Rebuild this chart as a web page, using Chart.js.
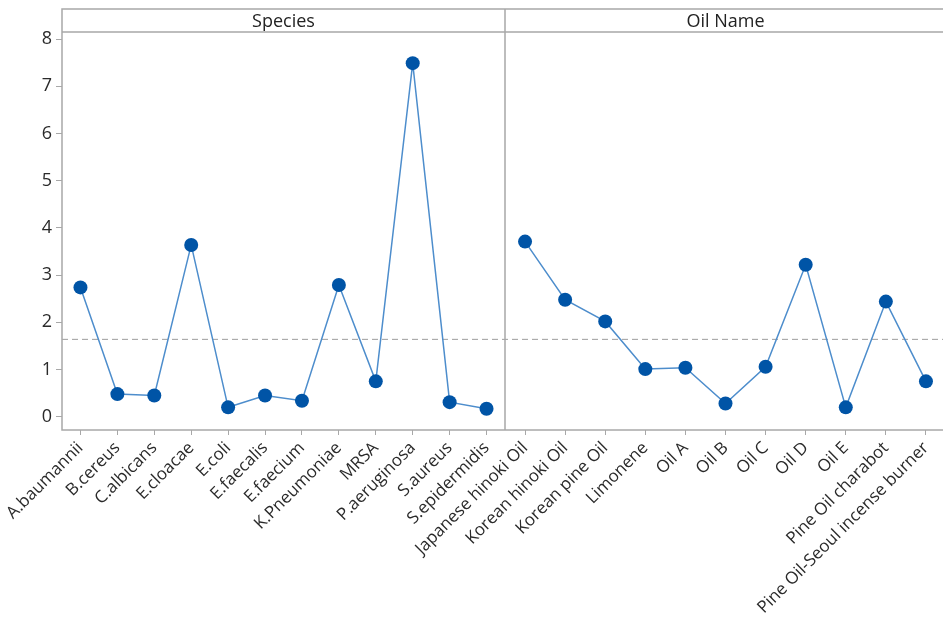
<!DOCTYPE html>
<html>
<head>
<meta charset="utf-8">
<script src="https://cdn.jsdelivr.net/npm/chart.js@4.4.0/dist/chart.umd.min.js"></script>
<style>
    html, body { margin: 0; padding: 0; background: #fff; overflow: hidden; }
    #mainEffects { display: block; }
</style>
</head>
<body>
<!-- canvas is a few px wider than the window: the right frame edge is cropped like in the source -->
<canvas id="mainEffects" width="946" height="632"></canvas>
<script>
// Means per factor level
const speciesLabels = ['A.baumannii', 'B.cereus', 'C.albicans', 'E.cloacae', 'E.coli', 'E.faecalis',
    'E.faecium', 'K.Pneumoniae', 'MRSA', 'P.aeruginosa', 'S.aureus', 'S.epidermidis'];
const speciesMeans = [2.74, 0.48, 0.45, 3.64, 0.20, 0.45, 0.34, 2.79, 0.75, 7.49, 0.31, 0.17];

const oilLabels = ['Japanese hinoki Oil', 'Korean hinoki Oil', 'Korean pine Oil', 'Limonene',
    'Oil A', 'Oil B', 'Oil C', 'Oil D', 'Oil E', 'Pine Oil charabot', 'Pine Oil-Seoul incense burner'];
const oilMeans = [3.71, 2.48, 2.02, 1.01, 1.04, 0.28, 1.06, 3.22, 0.20, 2.44, 0.75];

const panelTitles = ['Species', 'Oil Name'];
const yTicks = [0, 1, 2, 3, 4, 5, 6, 7, 8];
const grandMean = 1.64;

const FONT = '"Open Sans", "Noto Sans", sans-serif';
const FRAME = '#a8a8a8';

// Draws the panel frame, header strips and the dashed grand-mean line
const panelFrame = {
    id: 'panelFrame',
    beforeDatasetsDraw(chart) {
        const { ctx, chartArea: a, scales } = chart;
        const top = a.top - 23;
        ctx.save();

        const yMean = scales.y.getPixelForValue(grandMean);
        ctx.strokeStyle = '#9c9c9c';
        ctx.lineWidth = 1;
        ctx.setLineDash([6, 4]);
        ctx.beginPath();
        ctx.moveTo(a.left, yMean);
        ctx.lineTo(a.right, yMean);
        ctx.stroke();
        ctx.setLineDash([]);

        ctx.strokeStyle = FRAME;
        ctx.lineWidth = 1.5;
        ctx.strokeRect(a.left, top, a.right - a.left, a.bottom - top);
        ctx.beginPath();
        ctx.moveTo(a.left, a.top);
        ctx.lineTo(a.right, a.top);
        const split = scales.x2.left;
        ctx.moveTo(split, top);
        ctx.lineTo(split, a.bottom);
        ctx.stroke();

        ctx.fillStyle = '#222';
        ctx.font = '18px ' + FONT;
        ctx.textAlign = 'center';
        ctx.textBaseline = 'middle';
        [scales.x1, scales.x2].forEach((s, i) => {
            ctx.fillText(panelTitles[i], (s.left + s.right) / 2, (top + a.top) / 2 + 1);
        });
        ctx.restore();
    }
};

function panelAxis(labels, weight) {
    return {
        type: 'category',
        labels: labels,
        position: 'bottom',
        stack: 'panels',
        stackWeight: weight,
        offset: true,
        border: { display: false },
        grid: { drawOnChartArea: false, drawTicks: true, tickLength: 5, color: FRAME },
        ticks: {
            autoSkip: false,
            maxRotation: 45,
            minRotation: 45,
            padding: 3,
            color: '#2a2a2a',
            font: { family: FONT, size: 17 }
        },
        afterFit(scale) {
            scale.height = 202;
            scale.paddingLeft = 0;
            scale.paddingRight = 0;
        }
    };
}

function lineSet(values, axisId) {
    return {
        data: values,
        xAxisID: axisId,
        yAxisID: 'y',
        borderColor: '#4d8dcc',
        borderWidth: 1.5,
        pointRadius: 7,
        pointBackgroundColor: '#0054a6',
        pointBorderColor: '#0054a6',
        pointBorderWidth: 0,
        tension: 0
    };
}

new Chart(document.getElementById('mainEffects').getContext('2d'), {
    type: 'line',
    data: {
        datasets: [lineSet(speciesMeans, 'x1'), lineSet(oilMeans, 'x2')]
    },
    options: {
        responsive: false,
        animation: false,
        devicePixelRatio: 1,
        layout: { autoPadding: false, padding: { left: 0, right: 0, top: 32, bottom: 0 } },
        scales: {
            x1: panelAxis(speciesLabels, 443),
            x2: panelAxis(oilLabels, 441),
            y: {
                min: -0.28,
                max: 8.15,
                border: { display: false },
                grid: { drawOnChartArea: false, drawTicks: true, tickLength: 6, color: FRAME },
                ticks: { padding: 4, color: '#2a2a2a', font: { family: FONT, size: 18 } },
                afterBuildTicks(scale) {
                    scale.ticks = yTicks.map(v => ({ value: v }));
                },
                afterFit(scale) {
                    scale.width = 62;
                }
            }
        },
        plugins: {
            legend: { display: false },
            tooltip: { enabled: false }
        }
    },
    plugins: [panelFrame]
});
</script>
</body>
</html>
